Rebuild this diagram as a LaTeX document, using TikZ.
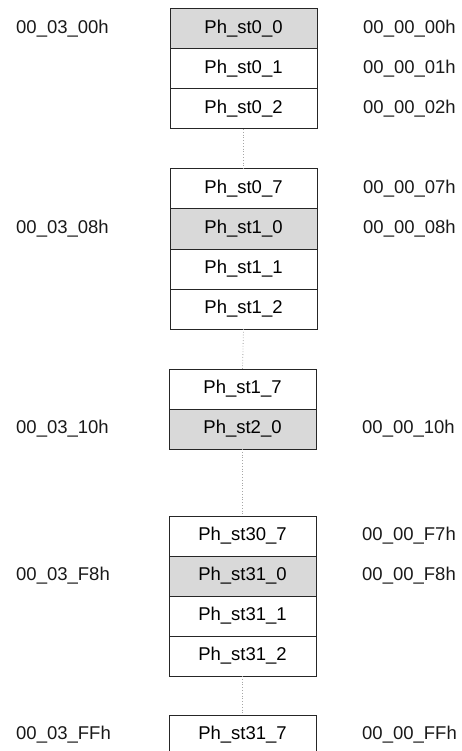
\documentclass[tikz,border=0pt]{standalone}
\usepackage{fontspec}
\setmainfont{Liberation Sans}
\usepackage{xcolor}
\usepackage{tikz}
\usetikzlibrary{positioning}

\definecolor{cellgray}{HTML}{D9D9D9}

\begin{document}
\begin{tikzpicture}[
  x=1pt, y=-1pt,
  font=\fontsize{18.5}{22}\selectfont,
  cell/.style={draw=black!85, line width=1pt, fill=white, minimum width=147pt, minimum height=40pt, inner sep=0pt, outer sep=0pt},
  mark0/.style={cell, fill=cellgray},
  addr/.style={inner sep=0pt, anchor=west, text=black!90},
  gap/.style={draw=black!35, dotted, line width=0.8pt}
]
\useasboundingbox (0,0) rectangle (461,751);
\clip (0,0) rectangle (461,751);

% stage 0
\node[mark0] (c00) at (243.5,29) {Ph\_st0\_0};
\node[cell, below=0pt of c00] (c01) {Ph\_st0\_1};
\node[cell, below=0pt of c01] (c02) {Ph\_st0\_2};
% stage 0/1
\node[cell] (c07) at (243.5,189) {Ph\_st0\_7};
\node[mark0, below=0pt of c07] (c10) {Ph\_st1\_0};
\node[cell, below=0pt of c10] (c11) {Ph\_st1\_1};
\node[cell, below=0pt of c11] (c12) {Ph\_st1\_2};
% stage 1/2
\node[cell] (c17) at (242.5,389) {Ph\_st1\_7};
\node[mark0, below=0pt of c17] (c20) {Ph\_st2\_0};
% stage 30/31
\node[cell] (c307) at (242.5,536) {Ph\_st30\_7};
\node[mark0, below=0pt of c307] (c310) {Ph\_st31\_0};
\node[cell, below=0pt of c310] (c311) {Ph\_st31\_1};
\node[cell, below=0pt of c311] (c312) {Ph\_st31\_2};
\node[cell] (c317) at (242.5,735) {Ph\_st31\_7};

% skipped entries
\draw[gap] (c02.south) -- (c07.north);
\draw[gap] (c12.south) -- (c17.north);
\draw[gap] (c20.south) -- (c307.north);
\draw[gap] (c312.south) -- (c317.north);

% stage addresses
\node[addr] (s00) at (16,0 |- c00) {00\_03\_00h};
\node[addr] (s08) at (16,0 |- c10) {00\_03\_08h};
\node[addr] (s10) at (16,0 |- c20) {00\_03\_10h};
\node[addr] (sF8) at (16,0 |- c310) {00\_03\_F8h};
\node[addr] (sFF) at (16,0 |- c317) {00\_03\_FFh};

% entry addresses
\node[addr, right=46pt of c00] (e00) {00\_00\_00h};
\node[addr, right=46pt of c01] (e01) {00\_00\_01h};
\node[addr, right=46pt of c02] (e02) {00\_00\_02h};
\node[addr, right=46pt of c07] (e07) {00\_00\_07h};
\node[addr, right=46pt of c10] (e08) {00\_00\_08h};
\node[addr, right=46pt of c20] (e10) {00\_00\_10h};
\node[addr, right=46pt of c307] (eF7) {00\_00\_F7h};
\node[addr, right=46pt of c310] (eF8) {00\_00\_F8h};
\node[addr, right=46pt of c317] (eFF) {00\_00\_FFh};
\end{tikzpicture}
\end{document}
